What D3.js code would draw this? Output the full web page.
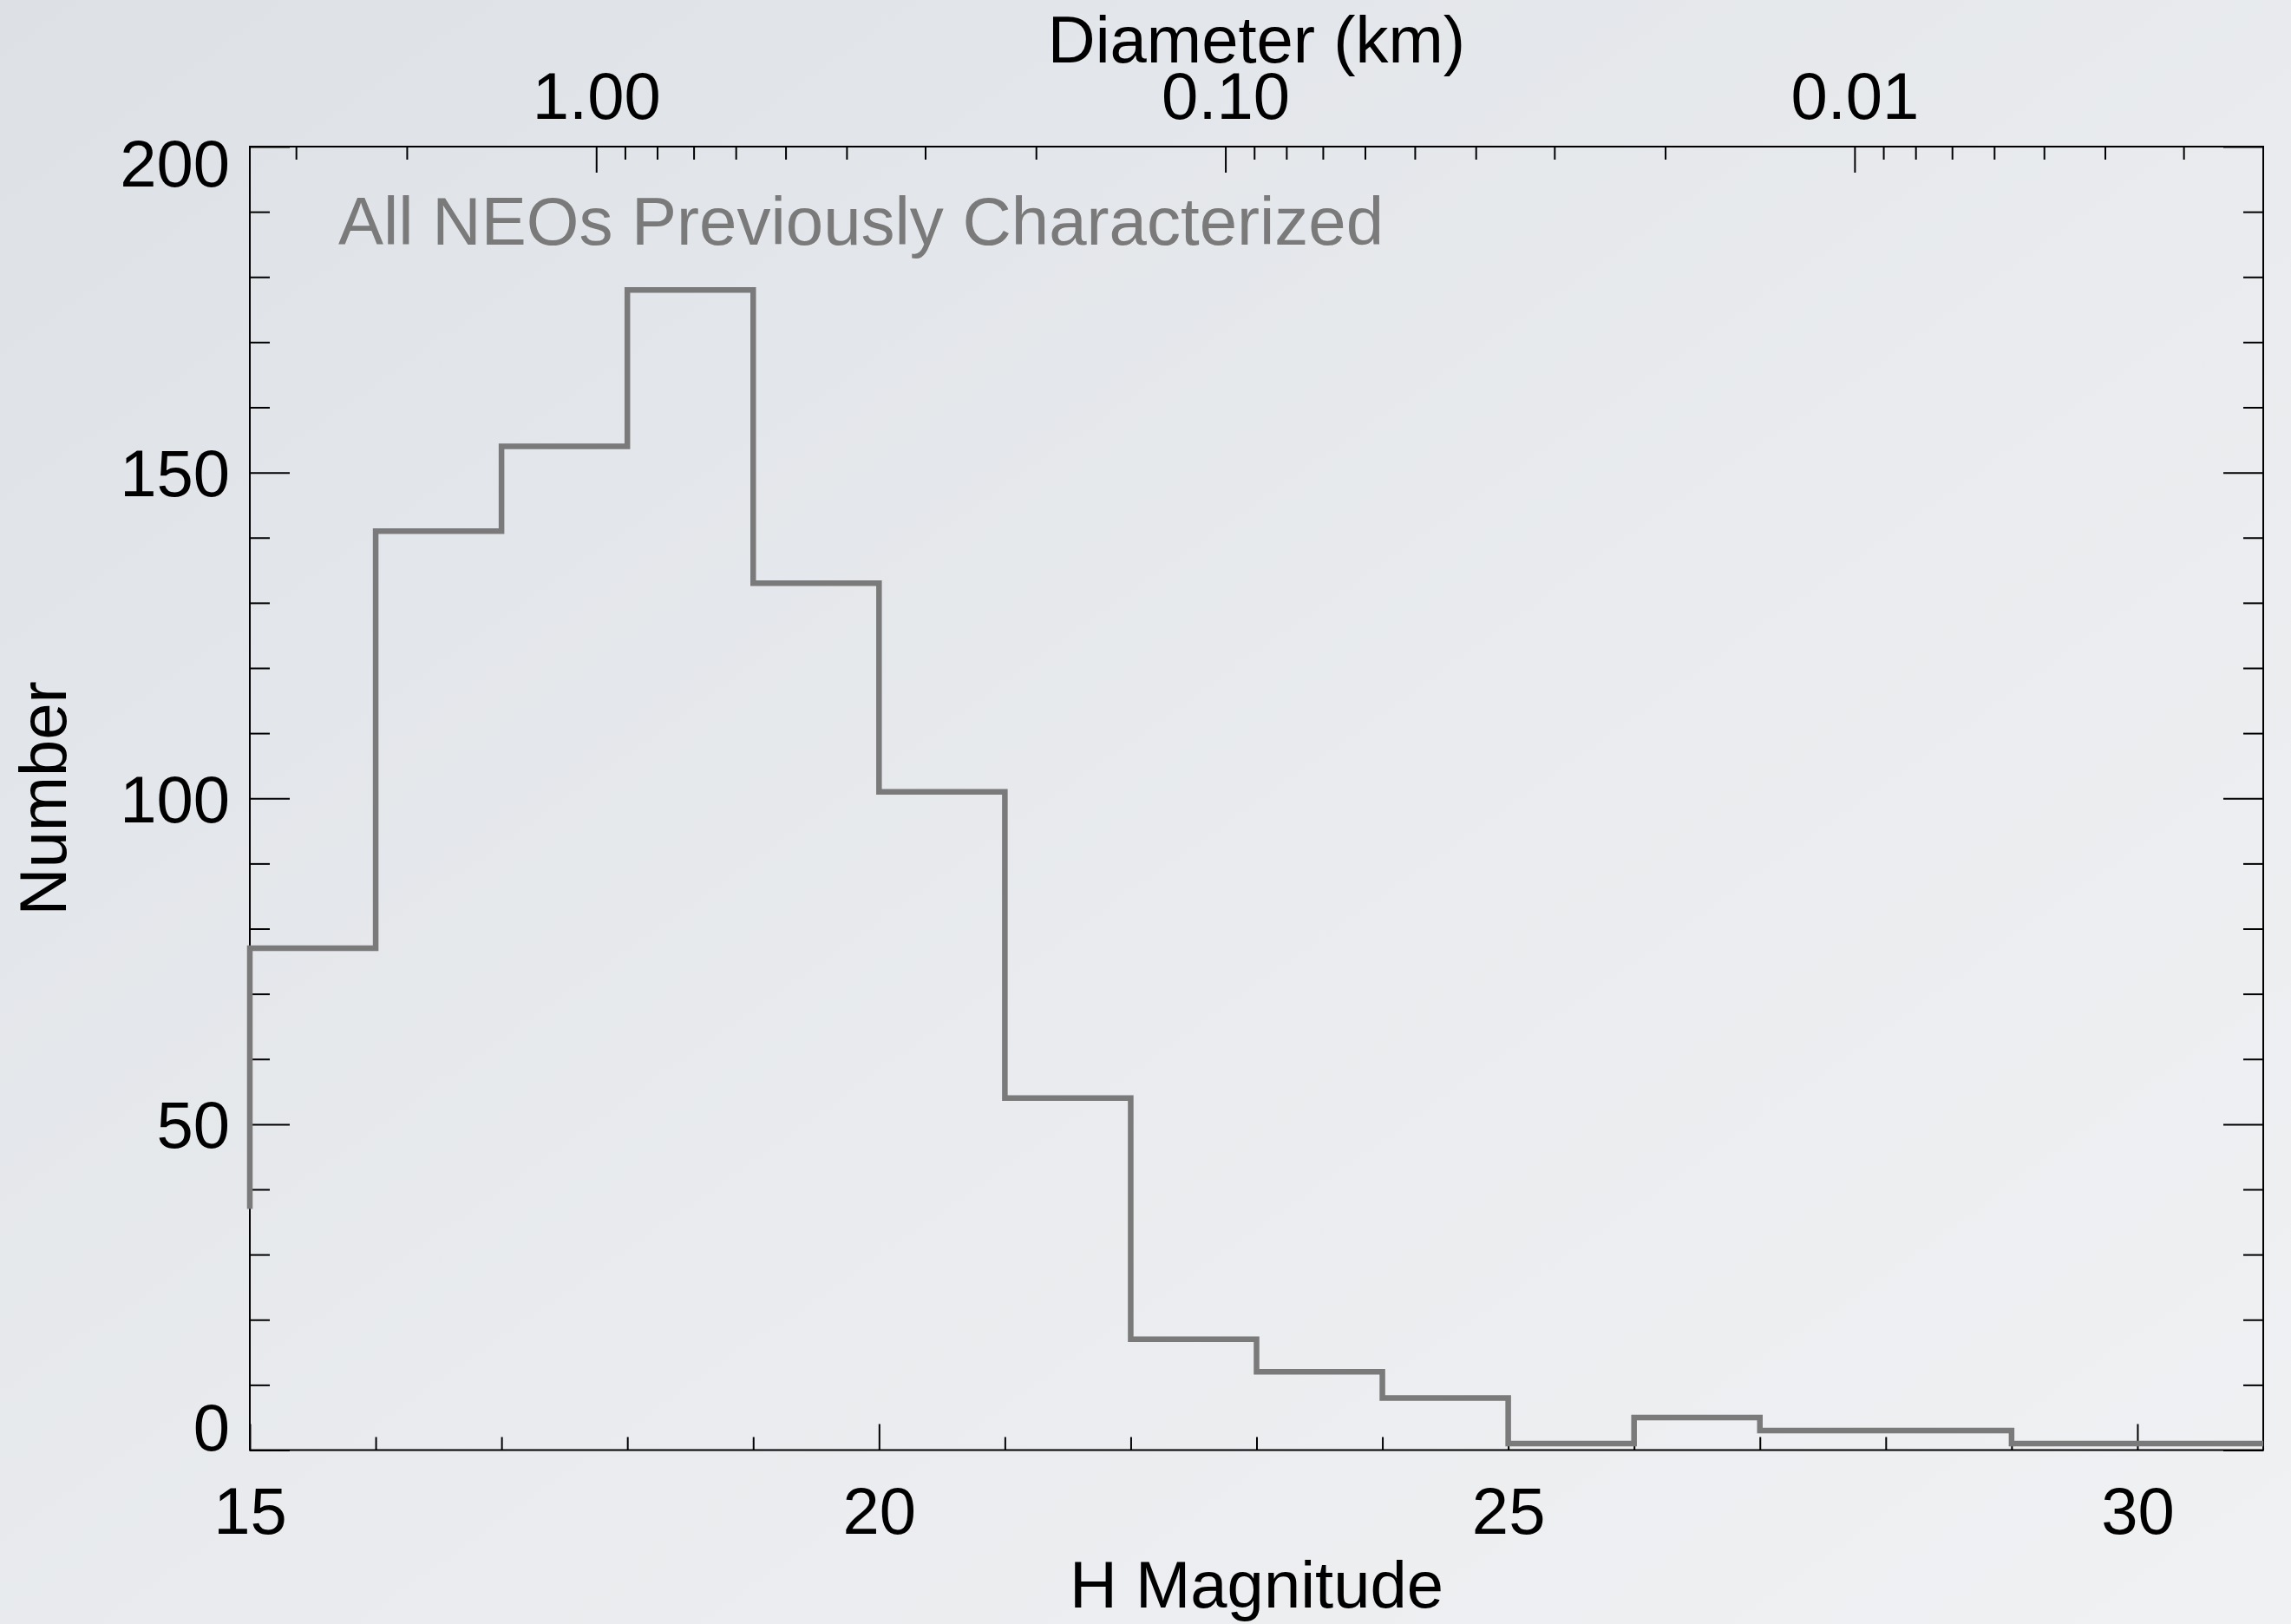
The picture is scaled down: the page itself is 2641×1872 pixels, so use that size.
<!DOCTYPE html>
<html>
<head>
<meta charset="utf-8">
<script src="https://cdn.jsdelivr.net/npm/d3@7"></script>
<style>
  html, body { margin: 0; padding: 0; }
  body { width: 2641px; height: 1872px; overflow: hidden; }
  text { font-family: "Liberation Sans", Arial, Helvetica, sans-serif; }
</style>
</head>
<body>
<div id="chart"></div>
<script>
// Histogram of H magnitudes (bin start, 1 mag wide). Bin 14 only shows as the lead-in at the left edge.
const binStart = [14, 15, 16, 17, 18, 19, 20, 21, 22, 23, 24, 25, 26, 27, 28, 29, 30];
const counts   = [37, 77, 141, 154, 178, 133, 101, 54, 17, 12, 8, 1, 5, 3, 3, 1, 1];
const binWidth = 1;

// axes
const hDomain = [15, 31];
const hMajor = [15, 20, 25, 30];
const hMinor = [16, 17, 18, 19, 21, 22, 23, 24, 26, 27, 28, 29];
const yDomain = [0, 200];
const yMajor = [0, 50, 100, 150, 200];
const yMinorStep = 10;
const diamMajor = [1, 0.1, 0.01];
const diamLabels = ["1.00", "0.10", "0.01"];
const albedo = 0.14; // D(km) = 1329 / sqrt(p) * 10^(-H/5)

const W = 2641, H = 1872;
const margin = { top: 169, right: 32, bottom: 200, left: 288 };
const width = W - margin.left - margin.right;
const height = 1671.5 - margin.top;

const svg = d3.select("#chart").append("svg")
  .attr("width", W)
  .attr("height", H);

const defs = svg.append("defs");
const grad = defs.append("linearGradient")
  .attr("id", "bg")
  .attr("x1", "0").attr("y1", "0").attr("x2", "1").attr("y2", "1");
grad.append("stop").attr("offset", "0%").attr("stop-color", "#dde1e6");
grad.append("stop").attr("offset", "55%").attr("stop-color", "#e9ebee");
grad.append("stop").attr("offset", "100%").attr("stop-color", "#f0f1f3");
svg.append("rect").attr("width", W).attr("height", H).attr("fill", "url(#bg)");

const g = svg.append("g")
  .attr("transform", `translate(${margin.left}, ${margin.top})`);

const x = d3.scaleLinear().domain(hDomain).range([0, width]).clamp(true);
const y = d3.scaleLinear().domain(yDomain).range([height, 0]);

const diam = h => 1329 / Math.sqrt(albedo) * Math.pow(10, -h / 5);
const xTop = d3.scaleLog().domain([diam(hDomain[0]), diam(hDomain[1])]).range([0, width]);
const diamMinor = xTop.ticks().filter(d => !diamMajor.some(m => Math.abs(m - d) < 1e-9));

const fontSize = 76;
const tickColor = "#000";

const styleAxis = sel => {
  sel.select(".domain").remove();
  sel.selectAll("line").attr("stroke", tickColor).attr("stroke-width", 2);
  sel.selectAll("text")
    .attr("fill", "#000")
    .style("font-size", fontSize + "px")
    .style("font-family", '"Liberation Sans", Arial, Helvetica, sans-serif');
};

// bottom axis: H magnitude
g.append("g")
  .attr("transform", `translate(0, ${height})`)
  .call(d3.axisBottom(x).tickValues(hMajor).tickSize(-30).tickPadding(43).tickFormat(d3.format("d")))
  .call(styleAxis);
g.append("g")
  .attr("transform", `translate(0, ${height})`)
  .call(d3.axisBottom(x).tickValues(hMinor).tickSize(-15).tickFormat(""))
  .call(styleAxis);

// top axis: diameter
g.append("g")
  .call(d3.axisTop(xTop).tickValues(diamMajor).tickSize(-30).tickPadding(32)
    .tickFormat((d, i) => diamLabels[i]))
  .call(styleAxis);
g.append("g")
  .call(d3.axisTop(xTop).tickValues(diamMinor).tickSize(-15).tickFormat(""))
  .call(styleAxis);

// left axis
const yMinor = d3.range(yDomain[0], yDomain[1] + 1, yMinorStep).filter(v => !yMajor.includes(v));
const leftAxis = g.append("g")
  .call(d3.axisLeft(y).tickValues(yMajor).tickSize(-46).tickPadding(23).tickFormat(d3.format("d")))
  .call(styleAxis);
leftAxis.selectAll("text")
  .attr("dy", 0)
  .attr("y", d => Math.min(Math.max(y(d), 18), height - 27) + 27 - y(d));
g.append("g")
  .call(d3.axisLeft(y).tickValues(yMinor).tickSize(-23).tickFormat(""))
  .call(styleAxis);

// right axis (ticks only)
g.append("g")
  .attr("transform", `translate(${width}, 0)`)
  .call(d3.axisRight(y).tickValues(yMajor).tickSize(-46).tickFormat(""))
  .call(styleAxis);
g.append("g")
  .attr("transform", `translate(${width}, 0)`)
  .call(d3.axisRight(y).tickValues(yMinor).tickSize(-23).tickFormat(""))
  .call(styleAxis);

// frame
g.append("rect")
  .attr("width", width)
  .attr("height", height)
  .attr("fill", "none")
  .attr("stroke", "#000")
  .attr("stroke-width", 2);

// histogram step line
const pts = binStart.map((h, i) => [h, counts[i]]);
pts.push([binStart[binStart.length - 1] + binWidth, counts[counts.length - 1]]);

const line = d3.line()
  .x(d => x(d[0]))
  .y(d => y(d[1]))
  .curve(d3.curveStepAfter);

g.append("path")
  .datum(pts)
  .attr("d", line)
  .attr("fill", "none")
  .attr("stroke", "#7a7a7a")
  .attr("stroke-width", 6.5)
  .attr("stroke-linejoin", "miter");

// annotation
g.append("text")
  .attr("x", 390 - margin.left)
  .attr("y", 282 - margin.top)
  .attr("fill", "#7a7a7a")
  .style("font-size", "78px")
  .text("All NEOs Previously Characterized");

// axis titles
svg.append("text")
  .attr("x", margin.left + width / 2)
  .attr("y", 1853)
  .attr("text-anchor", "middle")
  .style("font-size", fontSize + "px")
  .text("H Magnitude");

svg.append("text")
  .attr("x", margin.left + width / 2)
  .attr("y", 72)
  .attr("text-anchor", "middle")
  .style("font-size", fontSize + "px")
  .text("Diameter (km)");

svg.append("text")
  .attr("transform", `translate(76, ${margin.top + height / 2}) rotate(-90)`)
  .attr("text-anchor", "middle")
  .style("font-size", fontSize + "px")
  .text("Number");
</script>
</body>
</html>
